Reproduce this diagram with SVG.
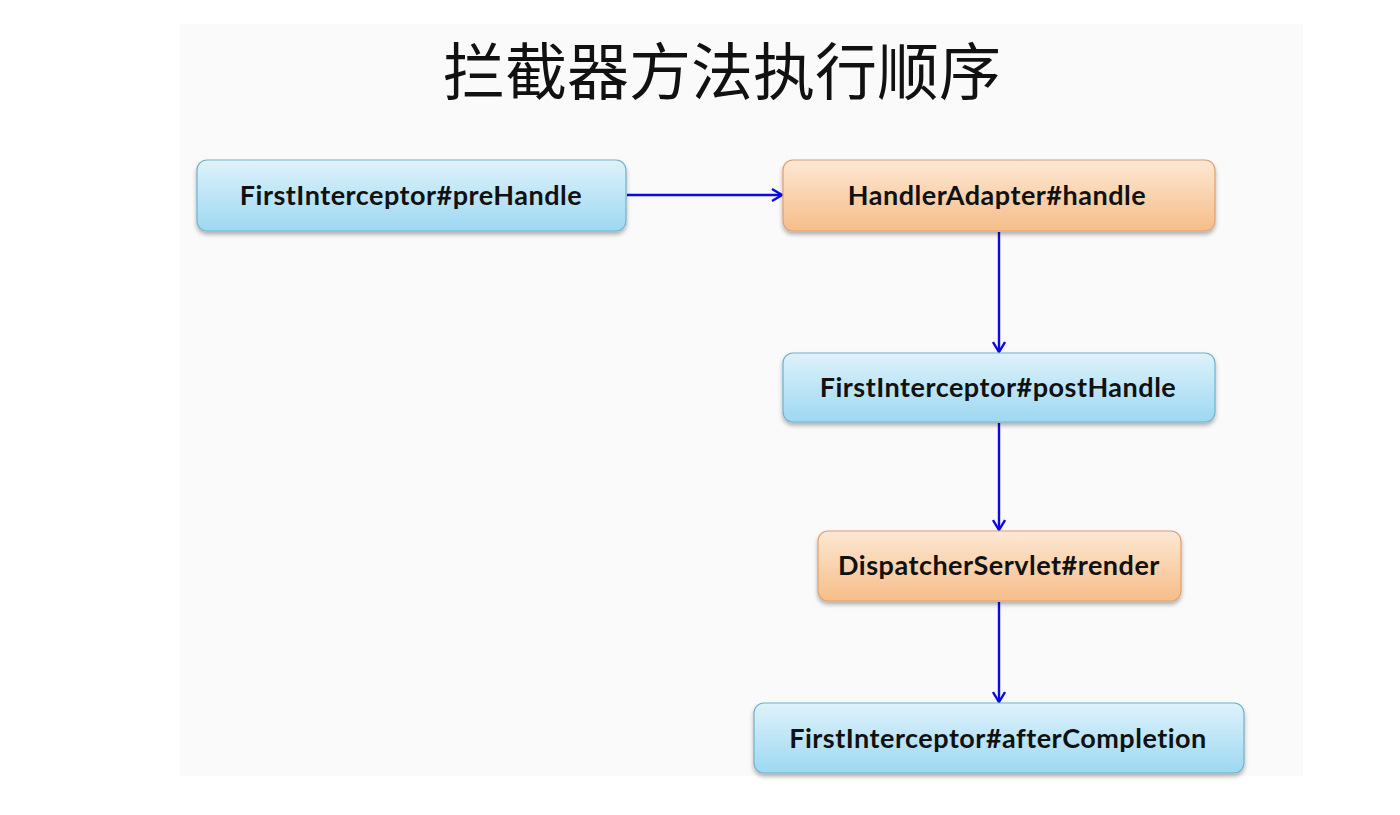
<svg xmlns="http://www.w3.org/2000/svg" width="1400" height="815" viewBox="0 0 1400 815">
<style>
.lbl{font-family:Lato,"Open Sans","Liberation Sans",sans-serif;font-weight:bold;font-size:27px;letter-spacing:0.5px;fill:#111;text-anchor:middle}
.title{font-family:"Noto Sans CJK SC",sans-serif;font-size:62px;fill:#111;text-anchor:middle}
.blue{fill:url(#gb);stroke:#6fb2cc;stroke-width:1.2}
.orange{fill:url(#go);stroke:#dca072;stroke-width:1.2}
.conn{stroke:#0a0ae6;stroke-width:2.4;fill:none;marker-end:url(#ah)}
</style>
<defs>
<linearGradient id="gb" x1="0" y1="0" x2="0" y2="1">
<stop offset="0" stop-color="#def2fb"/><stop offset="1" stop-color="#9dd8f1"/>
</linearGradient>
<linearGradient id="go" x1="0" y1="0" x2="0" y2="1">
<stop offset="0" stop-color="#fde8d4"/><stop offset="1" stop-color="#f6bd88"/>
</linearGradient>
<filter id="sh" x="-5%" y="-20%" width="110%" height="150%">
<feDropShadow dx="0" dy="3" stdDeviation="2" flood-color="#000" flood-opacity="0.3"/>
</filter>
<marker id="ah" markerWidth="14" markerHeight="14" refX="12" refY="7" orient="auto" markerUnits="userSpaceOnUse">
<path d="M2,1 L12,7 L2,13" fill="none" stroke="#0a0ae6" stroke-width="2.4"/>
</marker>
</defs>
<rect width="1400" height="815" fill="#fff"/>
<rect x="180" y="24" width="1123" height="752" fill="#fafafa"/>
<text class="title" x="722" y="95">拦截器方法执行顺序</text>
<g id="connectors">
<line class="conn" x1="627" y1="195" x2="782" y2="195"/>
<line class="conn" x1="999" y1="232" x2="999" y2="352"/>
<line class="conn" x1="999" y1="423" x2="999" y2="530"/>
<line class="conn" x1="999" y1="602" x2="999" y2="702"/>
</g>
<g id="preHandle">
<rect class="blue" x="197" y="160" width="429" height="71" rx="10" filter="url(#sh)"/>
<text class="lbl" x="411" y="205">FirstInterceptor#preHandle</text>
</g>
<g id="handle">
<rect class="orange" x="783" y="160" width="432" height="71" rx="10" filter="url(#sh)"/>
<text class="lbl" x="997" y="205">HandlerAdapter#handle</text>
</g>
<g id="postHandle">
<rect class="blue" x="783" y="353" width="432" height="69" rx="10" filter="url(#sh)"/>
<text class="lbl" x="998" y="397">FirstInterceptor#postHandle</text>
</g>
<g id="render">
<rect class="orange" x="818" y="531" width="363" height="70" rx="10" filter="url(#sh)"/>
<text class="lbl" x="999" y="575">DispatcherServlet#render</text>
</g>
<g id="afterCompletion">
<rect class="blue" x="754" y="703" width="490" height="70" rx="10" filter="url(#sh)"/>
<text class="lbl" x="998" y="748">FirstInterceptor#afterCompletion</text>
</g>
</svg>
